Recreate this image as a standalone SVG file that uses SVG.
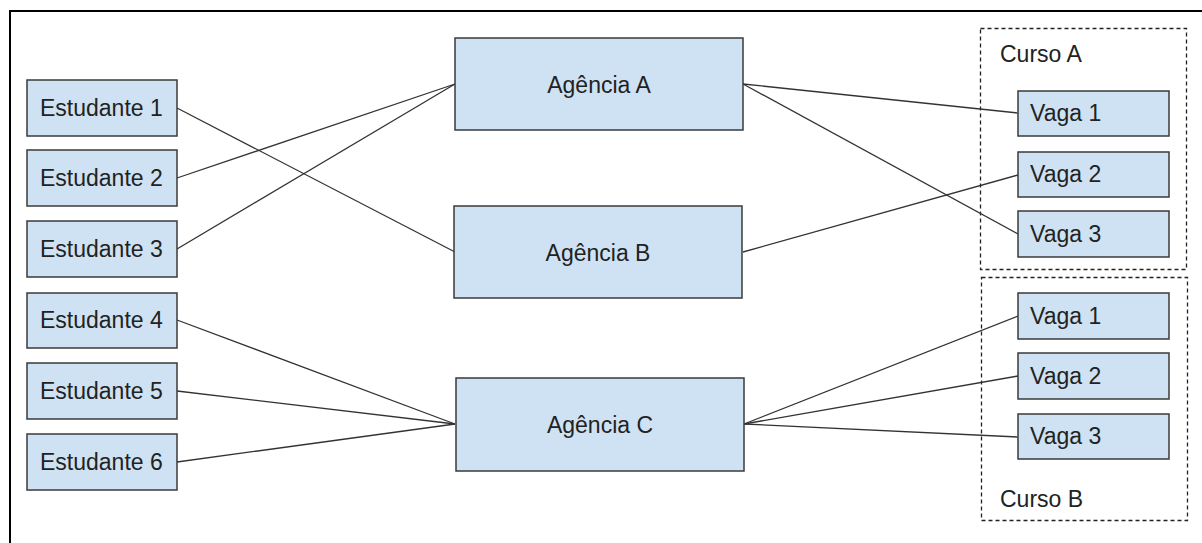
<svg xmlns="http://www.w3.org/2000/svg" width="1202" height="543" viewBox="0 0 1202 543">
<style>
.bg{fill:#ffffff}
.frame{fill:none;stroke:#000;stroke-width:2}
.box{fill:#cfe2f3;stroke:#3a3a3a;stroke-width:1.5}
.grp{fill:none;stroke:#222;stroke-width:1.3;stroke-dasharray:4 3}
.lbl{font-family:"Liberation Sans",Arial,sans-serif;font-size:23px;fill:#222}
.mid{text-anchor:middle}
.edge{stroke:#333;stroke-width:1.3;fill:none}
</style>
<rect class="bg" x="0" y="0" width="1202" height="543"/>
<rect class="frame" x="10" y="11" width="1210" height="560"/>
<g id="curso-a"><rect class="grp" x="980.5" y="28.5" width="206" height="241"/><text class="lbl" x="1000" y="62">Curso A</text></g>
<g id="curso-b"><rect class="grp" x="981.5" y="277.5" width="206" height="243"/><text class="lbl" x="1000" y="507">Curso B</text></g>
<g id="connectors">
<line class="edge" x1="177" y1="108" x2="455" y2="252"/>
<line class="edge" x1="177" y1="178" x2="455" y2="84"/>
<line class="edge" x1="177" y1="249" x2="455" y2="84"/>
<line class="edge" x1="177" y1="320" x2="455" y2="424"/>
<line class="edge" x1="177" y1="391" x2="455" y2="424"/>
<line class="edge" x1="177" y1="462" x2="455" y2="424"/>
<line class="edge" x1="743" y1="84" x2="1018" y2="113"/>
<line class="edge" x1="743" y1="84" x2="1018" y2="234"/>
<line class="edge" x1="743" y1="252" x2="1018" y2="175"/>
<line class="edge" x1="744" y1="424" x2="1018" y2="316"/>
<line class="edge" x1="744" y1="424" x2="1018" y2="376"/>
<line class="edge" x1="744" y1="424" x2="1018" y2="437"/>
</g>
<g id="est1"><rect class="box" x="27" y="80" width="150" height="56"/><text class="lbl" x="40" y="116">Estudante 1</text></g>
<g id="est2"><rect class="box" x="27" y="150" width="150" height="56"/><text class="lbl" x="40" y="186">Estudante 2</text></g>
<g id="est3"><rect class="box" x="27" y="221" width="150" height="56"/><text class="lbl" x="40" y="257">Estudante 3</text></g>
<g id="est4"><rect class="box" x="27" y="293" width="150" height="55"/><text class="lbl" x="40" y="328">Estudante 4</text></g>
<g id="est5"><rect class="box" x="27" y="363" width="150" height="56"/><text class="lbl" x="40" y="399">Estudante 5</text></g>
<g id="est6"><rect class="box" x="27" y="434" width="150" height="56"/><text class="lbl" x="40" y="470">Estudante 6</text></g>
<g id="ag-a"><rect class="box" x="455" y="38" width="288" height="92"/><text class="lbl mid" x="599" y="93">Agência A</text></g>
<g id="ag-b"><rect class="box" x="454" y="206" width="288" height="92"/><text class="lbl mid" x="598" y="261">Agência B</text></g>
<g id="ag-c"><rect class="box" x="456" y="378" width="288" height="93"/><text class="lbl mid" x="600" y="433">Agência C</text></g>
<g id="va1"><rect class="box" x="1018" y="91" width="151" height="45"/><text class="lbl" x="1030" y="121">Vaga 1</text></g>
<g id="va2"><rect class="box" x="1018" y="152" width="151" height="45"/><text class="lbl" x="1030" y="182">Vaga 2</text></g>
<g id="va3"><rect class="box" x="1018" y="211" width="151" height="46"/><text class="lbl" x="1030" y="242">Vaga 3</text></g>
<g id="vb1"><rect class="box" x="1018" y="293" width="151" height="46"/><text class="lbl" x="1030" y="324">Vaga 1</text></g>
<g id="vb2"><rect class="box" x="1018" y="353" width="151" height="46"/><text class="lbl" x="1030" y="384">Vaga 2</text></g>
<g id="vb3"><rect class="box" x="1018" y="414" width="151" height="45"/><text class="lbl" x="1030" y="444">Vaga 3</text></g>
</svg>
